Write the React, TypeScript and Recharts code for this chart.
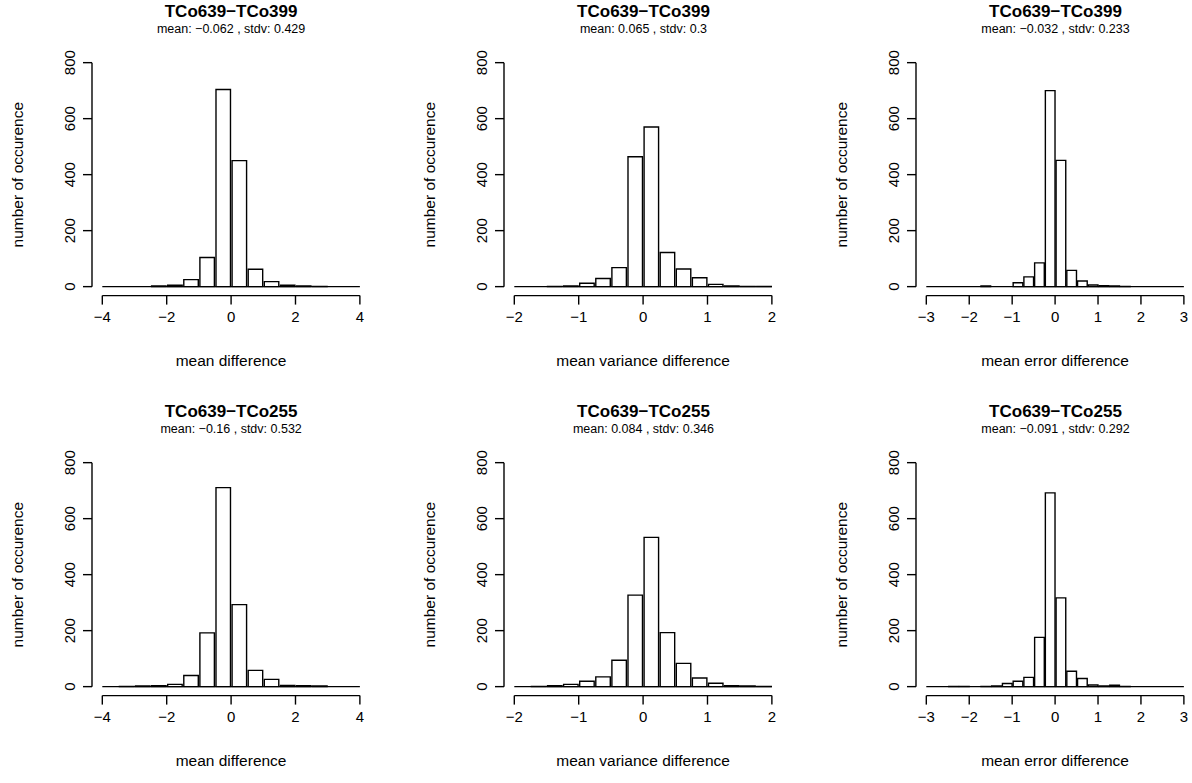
import { BarChart, Bar, XAxis, YAxis, ReferenceLine } from 'recharts';

const FONT = '"Liberation Sans", Arial, Helvetica, sans-serif';

// bin left edges
const binsMean = [-4, -3.5, -3, -2.5, -2, -1.5, -1, -0.5, 0, 0.5, 1, 1.5, 2, 2.5, 3, 3.5];
const binsVar = [-2, -1.75, -1.5, -1.25, -1, -0.75, -0.5, -0.25, 0, 0.25, 0.5, 0.75, 1, 1.25, 1.5, 1.75];
const binsErr = [
  -3, -2.75, -2.5, -2.25, -2, -1.75, -1.5, -1.25, -1, -0.75, -0.5, -0.25,
  0, 0.25, 0.5, 0.75, 1, 1.25, 1.5, 1.75, 2, 2.25, 2.5, 2.75,
];

const ticksMean = [-4, -2, 0, 2, 4];
const ticksVar = [-2, -1, 0, 1, 2];
const ticksErr = [-3, -2, -1, 0, 1, 2, 3];
const yTicks = [0, 200, 400, 600, 800];

// counts, TCo639-TCo399
const meanDiff399 = [0, 0, 0, 2, 5, 25, 104, 704, 450, 62, 18, 5, 2, 1, 0, 0];
const varDiff399 = [0, 0, 1, 2, 12, 29, 68, 464, 570, 122, 63, 32, 8, 2, 1, 1];
const errDiff399 = [0, 0, 0, 0, 0, 2, 0, 0, 14, 35, 85, 700, 451, 58, 20, 6, 3, 2, 1, 0, 0, 0, 0, 0];

// counts, TCo639-TCo255
const meanDiff255 = [0, 1, 2, 3, 8, 40, 192, 711, 293, 58, 26, 4, 3, 2, 0, 0];
const varDiff255 = [0, 1, 3, 8, 19, 35, 94, 327, 533, 193, 83, 31, 12, 3, 2, 1];
const errDiff255 = [0, 0, 1, 1, 0, 1, 2, 11, 19, 33, 176, 692, 317, 55, 29, 6, 2, 5, 1, 0, 0, 0, 0, 0];

const AXIS_W = 92;
const PAD = 10.3;
const DATA_W = 257.6;
const PLOT_W = DATA_W + 2 * PAD;
const PLOT_TOP = 53.7;
const PLOT_H = 241.9;
const BOTTOM_H = 88;

const minus = (v: number) => String(v).replace('-', '\u2212');

interface PanelProps {
  x: number; // pixel position of the first x tick
  y: number; // row offset
  title: string;
  subtitle: string;
  xlabel: string;
  bins: number[];
  counts: number[];
  ticks: number[];
}

function Panel({ x, y, title, subtitle, xlabel, bins, counts, ticks }: PanelProps) {
  const w = bins[1] - bins[0];
  const data = bins.map((b, i) => ({ mid: b + w / 2, count: counts[i] }));
  const lo = ticks[0];
  const hi = ticks[ticks.length - 1];
  const ext = (hi - lo) * 0.04;
  const barPx = (DATA_W * w) / (hi - lo);
  const chartLeft = x - AXIS_W - PAD;
  const line = { stroke: '#000', strokeWidth: 1.4 };

  return (
    <>
      <div
        style={{
          position: 'absolute',
          left: x - PAD,
          width: PLOT_W,
          top: y + 3,
          fontSize: 17,
          lineHeight: '17px',
          fontWeight: 'bold',
          textAlign: 'center',
        }}
      >
        {title}
      </div>
      <div
        style={{
          position: 'absolute',
          left: x - PAD,
          width: PLOT_W,
          top: y + 23,
          fontSize: 12.5,
          lineHeight: '13px',
          textAlign: 'center',
        }}
      >
        {subtitle}
      </div>
      <div style={{ position: 'absolute', left: chartLeft, top: y }}>
        <BarChart
          width={AXIS_W + PLOT_W + 12}
          height={PLOT_TOP + PLOT_H + BOTTOM_H}
          data={data}
          margin={{ top: PLOT_TOP, right: 12, bottom: 0, left: 0 }}
          barCategoryGap={0}
        >
          <XAxis
            dataKey="mid"
            type="number"
            domain={[lo - ext, hi + ext]}
            allowDataOverflow
            ticks={ticks}
            interval={0}
            height={BOTTOM_H}
            axisLine={false}
            tickLine={line}
            tickSize={9}
            tickMargin={0}
            tick={(p: any) => (
              <text
                x={p.x}
                y={p.y + 12}
                textAnchor="middle"
                dominantBaseline="central"
                fontSize={15}
                fontFamily={FONT}
                fill="#000"
              >
                {minus(p.payload.value)}
              </text>
            )}
            label={(p: any) => {
              const vb = p.viewBox;
              return (
                <text
                  x={vb.x + vb.width / 2}
                  y={vb.y + 65}
                  textAnchor="middle"
                  dominantBaseline="central"
                  fontSize={15.5}
                  fontFamily={FONT}
                  fill="#000"
                >
                  {xlabel}
                </text>
              );
            }}
          />
          <YAxis
            type="number"
            domain={[-32, 832]}
            allowDataOverflow
            ticks={yTicks}
            interval={0}
            width={AXIS_W}
            axisLine={false}
            tickLine={line}
            tickSize={9}
            tickMargin={0}
            tick={(p: any) => (
              <text
                x={70}
                y={p.y}
                transform={`rotate(-90, 70, ${p.y})`}
                textAnchor="middle"
                dominantBaseline="central"
                fontSize={15}
                fontFamily={FONT}
                fill="#000"
              >
                {p.payload.value}
              </text>
            )}
            label={(p: any) => {
              const vb = p.viewBox;
              const cy = vb.y + vb.height / 2;
              return (
                <text
                  x={18}
                  y={cy}
                  transform={`rotate(-90, 18, ${cy})`}
                  textAnchor="middle"
                  dominantBaseline="central"
                  fontSize={15.5}
                  fontFamily={FONT}
                  fill="#000"
                >
                  number of occurence
                </text>
              );
            }}
          />
          {/* zero bins, x axis line, y axis line */}
          <ReferenceLine segment={[{ x: lo, y: 0 }, { x: hi, y: 0 }]} ifOverflow="visible" {...line} />
          <ReferenceLine segment={[{ x: lo, y: -32 }, { x: hi, y: -32 }]} ifOverflow="visible" {...line} />
          <ReferenceLine segment={[{ x: lo - ext, y: 0 }, { x: lo - ext, y: 800 }]} ifOverflow="visible" {...line} />
          <Bar
            dataKey="count"
            barSize={barPx}
            fill="#fff"
            stroke="#000"
            strokeWidth={1.4}
            isAnimationActive={false}
          />
        </BarChart>
      </div>
    </>
  );
}

export default function App() {
  return (
    <div
      style={{
        position: 'fixed',
        left: 0,
        top: 0,
        width: 1192,
        height: 783,
        overflow: 'hidden',
        background: '#fff',
        fontFamily: FONT,
        color: '#000',
      }}
    >
      <Panel x={102.3} y={0} title="TCo639−TCo399" subtitle="mean: −0.062 , stdv: 0.429" xlabel="mean difference" bins={binsMean} counts={meanDiff399} ticks={ticksMean} />
      <Panel x={514.7} y={0} title="TCo639−TCo399" subtitle="mean: 0.065 , stdv: 0.3" xlabel="mean variance difference" bins={binsVar} counts={varDiff399} ticks={ticksVar} />
      <Panel x={926.7} y={0} title="TCo639−TCo399" subtitle="mean: −0.032 , stdv: 0.233" xlabel="mean error difference" bins={binsErr} counts={errDiff399} ticks={ticksErr} />
      <Panel x={102.3} y={400} title="TCo639−TCo255" subtitle="mean: −0.16 , stdv: 0.532" xlabel="mean difference" bins={binsMean} counts={meanDiff255} ticks={ticksMean} />
      <Panel x={514.7} y={400} title="TCo639−TCo255" subtitle="mean: 0.084 , stdv: 0.346" xlabel="mean variance difference" bins={binsVar} counts={varDiff255} ticks={ticksVar} />
      <Panel x={926.7} y={400} title="TCo639−TCo255" subtitle="mean: −0.091 , stdv: 0.292" xlabel="mean error difference" bins={binsErr} counts={errDiff255} ticks={ticksErr} />
    </div>
  );
}
